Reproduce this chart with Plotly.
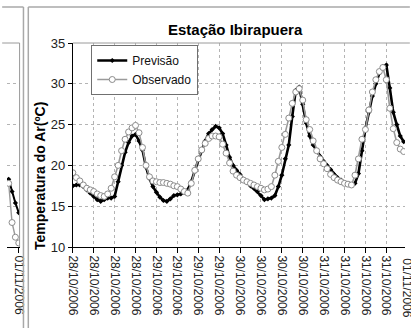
import plotly.graph_objects as go
import pandas as pd

# ---------------- data ----------------
start_time = "2006-10-28 00:00"
previsao = [
    17.5, 17.6, 17.6, 17.4, 17.0, 16.6, 16.2, 15.8, 15.6, 15.8,
    16.0, 16.0, 16.2, 18.0, 20.0, 21.6, 22.8, 23.6, 23.8, 23.0,
    21.9, 19.8, 18.4, 17.4, 16.7, 16.1, 15.7, 15.6, 15.9, 16.3,
    16.4, 16.5, 16.7, 17.0, 18.0, 19.4, 20.6, 21.8, 23.0, 23.9,
    24.4, 24.8, 24.6, 23.9, 22.5, 21.0, 20.0, 19.4, 18.9, 18.3,
    17.9, 17.5, 17.2, 16.8, 16.3, 15.8, 15.9, 16.0, 16.3, 17.4,
    18.8, 20.8, 22.5, 26.0, 29.2, 29.6, 27.5, 25.2, 23.6, 22.5,
    21.8, 21.1, 20.5, 20.0, 19.5, 18.9, 18.5, 18.2, 17.9, 17.7,
    17.6, 17.8, 19.0, 21.8, 24.5, 26.5, 28.5, 30.0, 31.3, 32.1,
    32.3, 29.5, 26.5, 25.0, 23.6, 22.9,
]
observado = [
    19.1, 18.5, 18.1, 17.6, 17.2, 17.0, 16.8, 16.5, 16.3, 16.2,
    16.5, 17.2, 18.6, 20.0, 21.8, 23.2, 24.1, 24.6, 24.9, 24.0,
    22.2, 20.0, 18.6, 18.1, 18.0, 17.9, 17.9, 17.8, 17.7, 17.5,
    17.4, 17.1, 16.8, 16.6, 17.8, 19.4, 20.8, 21.9, 22.7, 23.3,
    23.6, 23.6, 23.5, 22.6, 21.5, 20.3, 19.3, 18.8, 18.5, 18.2,
    18.0, 17.8, 17.6, 17.4, 17.2, 17.0, 17.1, 17.4, 18.8, 20.5,
    22.2, 23.8, 25.8, 27.6, 29.0, 29.4, 28.0, 25.6, 24.4, 23.0,
    21.8, 20.8, 20.2, 19.6, 18.9, 18.5, 18.2, 18.0, 17.8, 17.7,
    17.6, 18.8, 20.8, 23.2, 24.4, 26.8, 29.0, 30.5, 31.5, 32.0,
    30.5, 27.0, 24.5, 22.8, 22.0, 21.7,
]
times = pd.date_range(start_time, periods=len(previsao), freq="h")

# fragment of the neighbouring chart (left edge)
left_start = "2006-10-31 21:00"
left_previsao = [18.3, 16.8, 15.4, 14.2]
left_observado = [17.8, 13.0, 11.2, 10.5]
left_times = pd.date_range(left_start, periods=len(left_previsao), freq="h")

chart_title = "Estação Ibirapuera"
y_title = "Temperatura do Ar(ºC)"
y_ticks = [10, 15, 20, 25, 30, 35]
series_names = ["Previsão", "Observado"]
cut_label = "01/11/2006"

# ---------------- layout geometry ----------------
W, H = 411, 328
ML, MR, MT, MB = 0, 0, 43, 81
PW, PH = W - ML - MR, H - MT - MB


def px_x(px):
    return (px - ML) / PW


def px_y(py):
    return (H - MB - py) / PH


plot_left = 68
x_start = pd.Timestamp(start_time)
hours_visible = (W - plot_left) / (21.58 / 6.0)
x_end = x_start + pd.Timedelta(hours=hours_visible)
six_h = 6 * 3600 * 1000

narrow = "Liberation Sans Narrow, Arial Narrow, Liberation Sans, Arial, sans-serif"
regular = "Liberation Sans, Arial, sans-serif"
grid_col = "#b4b4b4"
border_col = "#a8a8a8"

fig = go.Figure()

fig.add_trace(go.Scatter(
    x=times, y=previsao, name=series_names[0], mode="lines+markers",
    line=dict(color="#000000", width=2.6),
    marker=dict(symbol="diamond", size=4, color="#000000"),
    xaxis="x", yaxis="y",
))
fig.add_trace(go.Scatter(
    x=times, y=observado, name=series_names[1], mode="lines+markers",
    line=dict(color="#9a9a9a", width=1.6),
    marker=dict(symbol="circle", size=6, color="#ffffff",
                line=dict(color="#8c8c8c", width=1)),
    xaxis="x", yaxis="y",
))

fig.add_trace(go.Scatter(
    x=left_times, y=left_previsao, mode="lines+markers", showlegend=False,
    line=dict(color="#000000", width=2.0),
    marker=dict(symbol="diamond", size=4, color="#000000"),
    xaxis="x2", yaxis="y2", hoverinfo="skip",
))
fig.add_trace(go.Scatter(
    x=left_times, y=left_observado, mode="lines+markers", showlegend=False,
    line=dict(color="#9a9a9a", width=1.4),
    marker=dict(symbol="circle", size=6, color="#ffffff",
                line=dict(color="#8c8c8c", width=1)),
    xaxis="x2", yaxis="y2", hoverinfo="skip",
))

common_x = dict(
    type="date", tickmode="linear", dtick=six_h, tickformat="%d/%m/%Y",
    tickangle=90, showline=True, linecolor="#000000", linewidth=1,
    ticks="outside", ticklen=5, tickcolor="#000000",
    tickfont=dict(family=regular, size=12, color="#222222"),
    zeroline=False,
)

fig.update_layout(
    width=W, height=H,
    margin=dict(l=ML, r=MR, t=MT, b=MB, pad=0),
    paper_bgcolor="#ffffff", plot_bgcolor="#ffffff",
    showlegend=True,
    xaxis=dict(
        domain=[px_x(plot_left), 1], anchor="y",
        range=[x_start, x_end], tick0=x_start,
        showgrid=True, gridcolor=grid_col, griddash="dot", gridwidth=1,
        **common_x,
    ),
    yaxis=dict(
        domain=[0, 1], anchor="x", range=[10, 35], tickvals=y_ticks,
        showgrid=True, gridcolor=grid_col, griddash="dot", gridwidth=1,
        showline=True, linecolor="#000000", linewidth=1,
        ticks="outside", ticklen=4, tickcolor="#000000",
        tickfont=dict(family=narrow, size=13, color="#222222"),
        zeroline=False,
    ),
    xaxis2=dict(
        domain=[0, px_x(13)], anchor="y2",
        range=[pd.Timestamp("2006-10-31 20:30"), pd.Timestamp("2006-11-01 00:15")],
        tick0=pd.Timestamp("2006-10-31 00:00"),
        showgrid=False, **common_x,
    ),
    yaxis2=dict(
        domain=[0, 1], anchor="x2", range=[10, 35], tickvals=y_ticks,
        showgrid=True, gridcolor=grid_col, griddash="dot", gridwidth=1,
        showticklabels=False, showline=False, ticks="", zeroline=False,
    ),
    legend=dict(
        x=px_x(87), y=px_y(45), xanchor="left", yanchor="top",
        bgcolor="#ffffff", bordercolor="#707070", borderwidth=1,
        font=dict(family=narrow, size=12, color="#111111"),
        tracegroupgap=0, itemwidth=30,
    ),
)

# partially visible tick label of 01/11 at the right edge
next_tick = x_start + pd.Timedelta(hours=96)
frac = (next_tick - x_start) / (x_end - x_start)
fig.add_annotation(
    xref="paper", yref="paper",
    x=px_x(plot_left) + frac * (1 - px_x(plot_left)), y=px_y(256),
    text=cut_label, textangle=90, showarrow=False,
    xanchor="center", yanchor="top",
    font=dict(family=regular, size=12, color="#222222"),
)

fig.add_annotation(
    xref="paper", yref="paper", x=px_x(236), y=px_y(29),
    text="<b>" + chart_title + "</b>", showarrow=False,
    xanchor="center", yanchor="middle",
    font=dict(family=narrow, size=15, color="#000000"),
)
fig.add_annotation(
    xref="paper", yref="paper", x=px_x(34), y=px_y(176),
    text="<b>" + y_title + "</b>", showarrow=False, textangle=-90,
    xanchor="center", yanchor="middle",
    font=dict(family=regular, size=14, color="#000000"),
)

# chart borders (frames of this chart and of the neighbouring one)
def seg(x0, y0, x1, y1, color=border_col, width=1.5):
    fig.add_shape(type="line", xref="paper", yref="paper",
                  x0=px_x(x0), y0=px_y(y0), x1=px_x(x1), y1=px_y(y1),
                  line=dict(color=color, width=width), layer="above")

seg(22, 7, W + 5, 7)
seg(22, 7, 22, H + 5)
seg(-5, 7, 17, 7)
seg(17, 7, 17, H + 5)
seg(plot_left, 43, W + 5, 43, color="#9a9a9a", width=1)
seg(-5, 43, 13, 43, color="#9a9a9a", width=1)
seg(13, 43, 13, 247, color="#9a9a9a", width=1)

fig.write_html("out.html")
